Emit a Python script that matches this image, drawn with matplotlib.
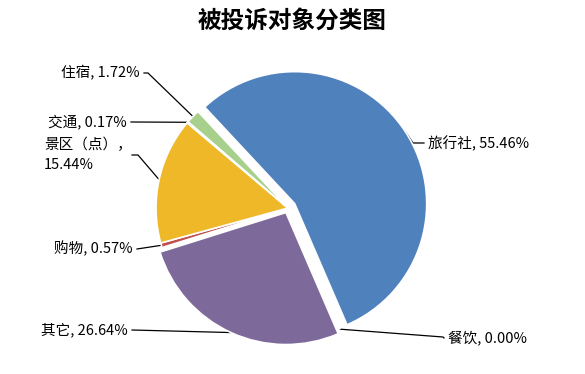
import numpy as np
import matplotlib
matplotlib.use('Agg')
from matplotlib import pyplot as plt

plt.rcParams['font.family'] = ['Noto Sans CJK SC', 'DejaVu Sans']

# data
names = ['旅行社', '餐饮', '其它', '购物', '景区（点）', '交通', '住宿']
shares = [55.46, 0.00, 26.64, 0.57, 15.44, 0.17, 1.72]
colors = ['#4F81BD', '#9BBB59', '#7E6A9A', '#C0504D', '#EFB828', '#5F5F9E', '#A8D08D']

# layout (pixels, origin top-left)
W, H = 585, 374
cx, cy, R = 288, 208, 132
start = 133
explode_px = [8, 0, 5, 0, 0, 0, 0]   # matplotlib explode is in data units here
# text anchor point, elbow point, alignment
label_pos = {
    '旅行社': ((428, 143), (413, 143), 'left'),
    '餐饮': ((448, 338), (443, 337), 'left'),
    '其它': ((128, 330), (132, 330), 'right'),
    '购物': ((133, 249), (137, 249), 'right'),
    '景区（点）': ((128, 145), (138, 155), 'right'),
    '交通': ((127, 122), (131, 122), 'right'),
    '住宿': ((140, 73), (148, 73), 'right'),
}

fig = plt.figure(figsize=(W / 100, H / 100), dpi=100)
ax = fig.add_axes([0, 0, 1, 1])

wedges, _ = ax.pie(shares, colors=colors, explode=explode_px, startangle=start,
                   counterclock=False, center=(cx, H - cy), radius=R, frame=True,
                   wedgeprops=dict(edgecolor='white', linewidth=1.2))
ax.set_xlim(0, W)
ax.set_ylim(0, H)
ax.set_aspect('equal')
ax.axis('off')

for w, name, val in zip(wedges, names, shares):
    mid = np.deg2rad((w.theta1 + w.theta2) / 2)
    wx, wy = w.center
    px, py = wx + w.r * np.cos(mid), wy + w.r * np.sin(mid)
    (tx, ty), (ex, ey), ha = label_pos[name]
    if name == '景区（点）':
        xs, ys = [px, ex, ex - 6], [py, H - ey, H - ey]
    else:
        xs = [px, ex, (tx + 4) if ha == 'right' else (tx - 4)]
        ys = [py, H - ey, H - ty]
    ax.plot(xs, ys, color='black', lw=0.9, zorder=0)
    if name == '景区（点）':
        ax.text(44, H - 145, name + '，', ha='left', va='center', fontsize=10.5)
        ax.text(44, H - 165, f'{val:.2f}%', ha='left', va='center', fontsize=10.5)
    else:
        ax.text(tx, H - ty, f'{name}, {val:.2f}%', ha=ha, va='center', fontsize=10.5)

fig.text(0.5, 1 - 21 / H, '被投诉对象分类图', ha='center', va='center',
         fontsize=17, fontweight='bold')

fig.savefig('out.png', dpi=100)
